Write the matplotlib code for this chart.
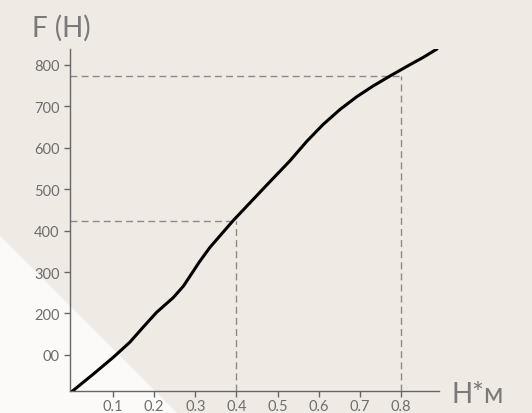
import matplotlib as mpl
import matplotlib.pyplot as plt
from matplotlib.patches import Polygon
mpl.use('agg')

# curve
deform = [0, 0.052, 0.1, 0.141, 0.173, 0.206, 0.246, 0.271, 0.295, 0.311,
          0.336, 0.392, 0.474, 0.53, 0.571, 0.611, 0.652, 0.693, 0.733,
          0.774, 0.822, 0.855, 0.888]
force = [12, 54, 94, 131, 167, 203, 238, 266, 302, 326,
         360, 424, 510, 568, 615, 656, 692, 723, 749,
         773, 800, 818, 838]

# dashed guide points
guide_x = [0.4, 0.8]
guide_y = [422, 774]

xticks = [0.1, 0.2, 0.3, 0.4, 0.5, 0.6, 0.7, 0.8]
yticks = [100, 200, 300, 400, 500, 600, 700, 800]
ytick_labels = ['00', '200', '300', '400', '500', '600', '700', '800']

plt.rcParams['font.family'] = ['Lato', 'DejaVu Sans']

dpi = 100
fig = plt.figure(figsize=(532 / dpi, 414 / dpi), dpi=dpi, facecolor='#efeae4')
# white corner triangle in the background
fig.patches.append(Polygon([(0, 0), (0, 1 - 237 / 414), (177 / 532, 0)],
                           closed=True, transform=fig.transFigure,
                           facecolor='#fbfaf8', edgecolor='none', zorder=0))

ax = fig.add_axes([70 / 532, 1 - 392 / 414, (439 - 70) / 532, (392 - 50) / 414])
ax.set_zorder(2)
ax.patch.set_alpha(0)

ax.plot(deform, force, color='black', lw=2.2, solid_capstyle='round',
        solid_joinstyle='round', zorder=3)

for gx, gy in zip(guide_x, guide_y):
    ax.plot([-0.005, gx], [gy, gy], color='#8a8a8a', lw=1, ls=(0, (5, 3)))
    ax.plot([gx, gx], [13, gy], color='#8a8a8a', lw=1, ls=(0, (5, 3)))

ax.set_xlim(-0.005, 0.893)
ax.set_ylim(13, 838)

for s in ['top', 'right']:
    ax.spines[s].set_visible(False)
for s in ['left', 'bottom']:
    ax.spines[s].set_color('#666666')
    ax.spines[s].set_linewidth(1)

ax.set_xticks(xticks)
ax.set_xticklabels([str(t) for t in xticks])
ax.set_yticks(yticks)
ax.set_yticklabels(ytick_labels)
ax.tick_params(colors='#666666', labelcolor='#6e6e6e', labelsize=10.5, length=4, width=1)
ax.tick_params(axis='x', pad=2)

fig.text(32 / 532, 1 - 37 / 414, 'F (H)', fontsize=20, color='#7a7a7a',
         ha='left', va='baseline')
fig.text(451 / 532, 1 - 403 / 414, 'H*м', fontsize=20, color='#7a7a7a',
         ha='left', va='baseline')

plt.savefig('out.png', dpi=dpi, facecolor=fig.get_facecolor())
